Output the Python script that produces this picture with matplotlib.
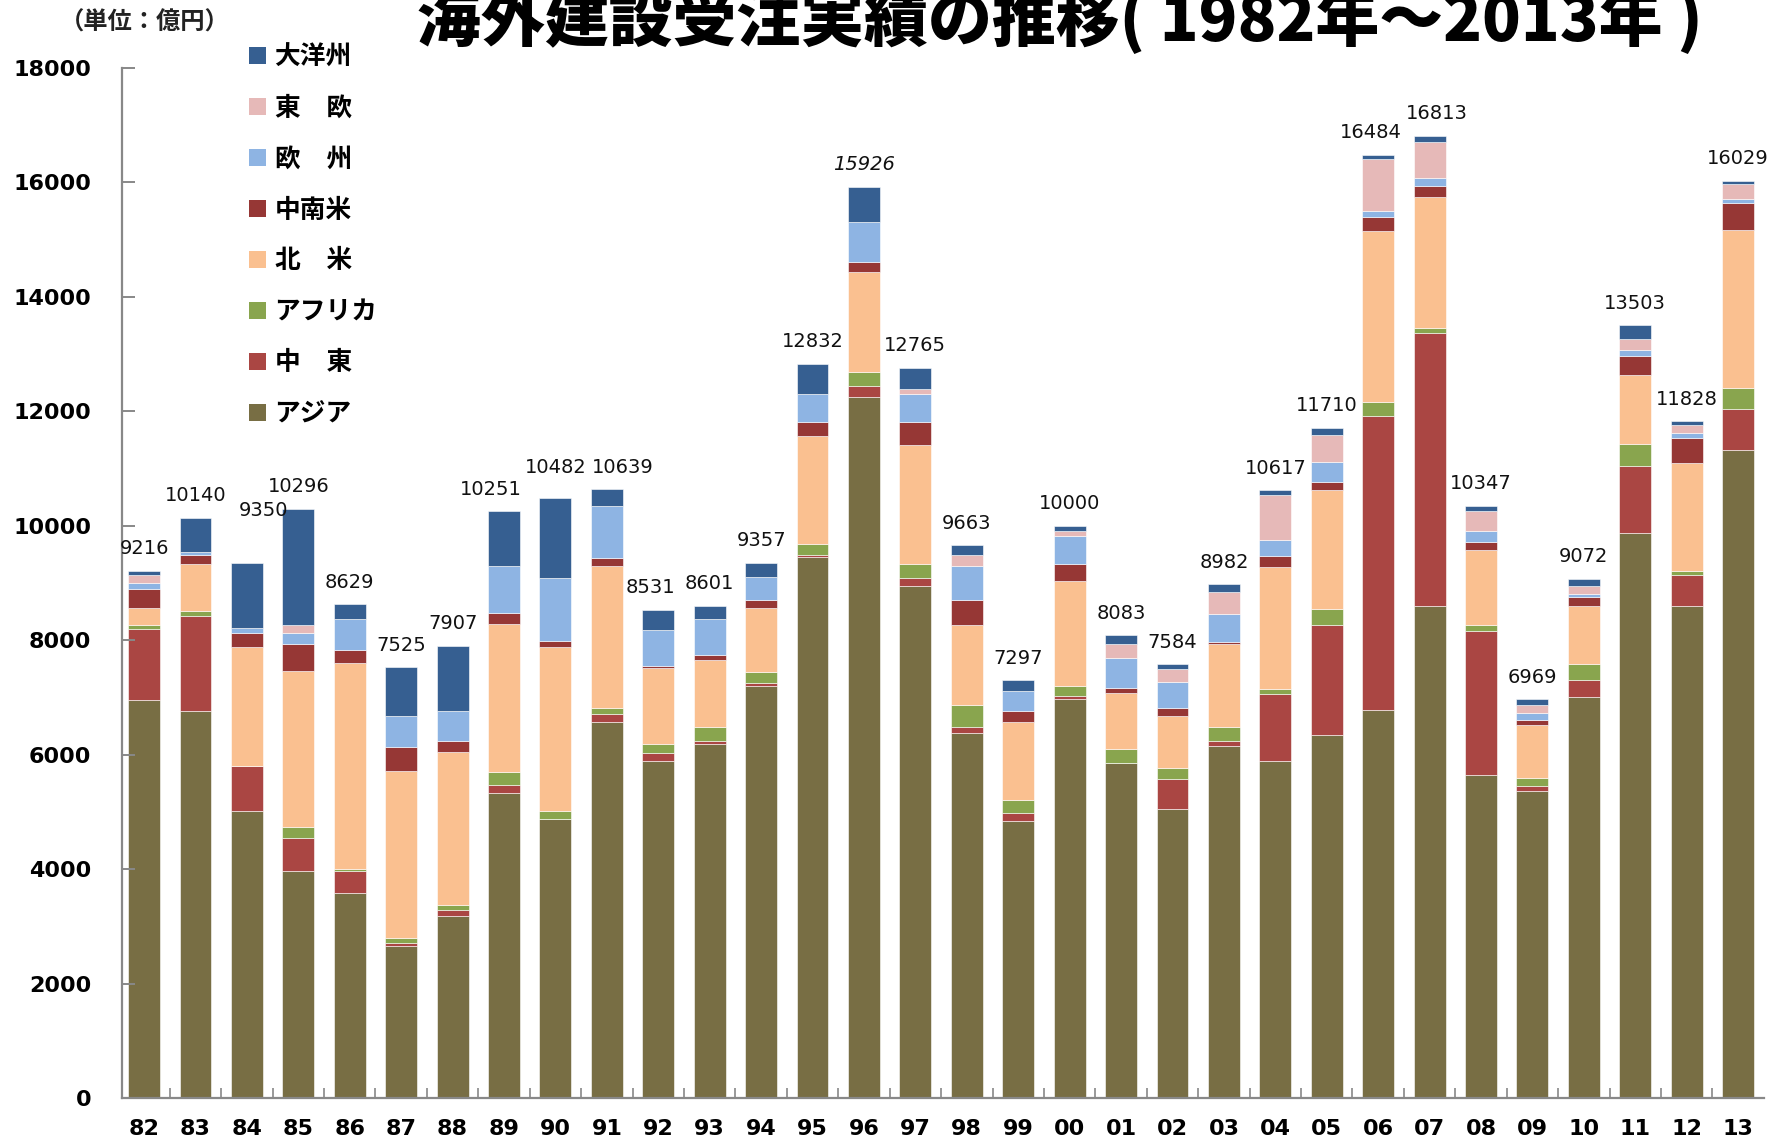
import numpy as np
import matplotlib.pyplot as plt
from matplotlib.patches import Patch

plt.rcParams['font.family'] = ['Noto Sans CJK JP', 'DejaVu Sans']

# overseas construction orders by region (100 million yen), fiscal 1982-2013
years = ['82', '83', '84', '85', '86', '87', '88', '89', '90', '91', '92', '93', '94', '95', '96', '97',
         '98', '99', '00', '01', '02', '03', '04', '05', '06', '07', '08', '09', '10', '11', '12', '13']
asia = [6958, 6760, 5020, 3960, 3575, 2665, 3185, 5325, 4880, 6577, 5893, 6188, 7208, 9456, 12251, 8950,
        6383, 4842, 6966, 5863, 5043, 6153, 5896, 6336, 6775, 8602, 5645, 5367, 7001, 9870, 8602, 11327]
middle_east = [1230, 1660, 780, 585, 390, 40, 100, 140, 0, 133, 140, 47, 46, 39, 187, 132,
               93, 133, 58, 0, 530, 92, 1169, 1931, 5139, 4771, 2524, 89, 300, 1168, 545, 722]
africa = [78, 95, 0, 195, 45, 90, 95, 235, 130, 101, 155, 241, 195, 187, 244, 257,
          389, 233, 182, 232, 191, 240, 83, 282, 245, 89, 89, 133, 289, 389, 56, 356]
north_america = [295, 825, 2090, 2715, 3585, 2920, 2665, 2580, 2880, 2482, 1323, 1175, 1120, 1890, 1749, 2081,
                 1401, 1369, 1832, 979, 920, 1442, 2131, 2081, 2999, 2279, 1312, 923, 1012, 1212, 1890, 2758]
latin_america = [327, 155, 235, 475, 240, 425, 195, 190, 100, 140, 39, 86, 140, 240, 186, 395,
                 443, 195, 291, 83, 133, 42, 190, 141, 243, 201, 144, 100, 145, 334, 445, 478]
europe = [117, 40, 85, 195, 540, 530, 525, 825, 1105, 918, 630, 638, 389, 495, 686, 488,
          584, 342, 489, 538, 447, 497, 291, 340, 93, 133, 189, 111, 67, 100, 89, 67]
east_europe = [132, 0, 0, 140, 0, 0, 0, 0, 0, 0, 0, 0, 0, 0, 0, 88,
               202, 0, 91, 241, 241, 382, 779, 481, 919, 634, 356, 145, 133, 200, 133, 267]
oceania = [79, 605, 1140, 2031, 254, 855, 1142, 956, 1387, 288, 351, 226, 259, 525, 623, 374,
           168, 183, 91, 147, 79, 134, 78, 118, 71, 104, 88, 101, 125, 230, 68, 54]

series = [
    ('アジア', asia, '#786E44'),
    ('中　東', middle_east, '#AA4643'),
    ('アフリカ', africa, '#89A54E'),
    ('北　米', north_america, '#FAC090'),
    ('中南米', latin_america, '#963735'),
    ('欧　州', europe, '#8EB4E3'),
    ('東　欧', east_europe, '#E6B9B8'),
    ('大洋州', oceania, '#365F91'),
]

# nudges for crowded total labels: (x in bar units, y in points)
label_shift = {'84': (0.32, 22), '89': (-0.25, 0), '90': (0.0, 6), '91': (0.3, 0),
               '92': (-0.15, 0), '06': (-0.15, 0), '07': (0.15, 0)}

fig = plt.figure(figsize=(17.75, 11.47), dpi=100)
ax = fig.add_axes([0.0687, 0.0427, 0.925, 0.898])

x = np.arange(len(years))
bottom = np.zeros(len(years))
for name, vals, color in series:
    vals = np.array(vals, dtype=float)
    ax.bar(x, vals, width=0.62, bottom=bottom, color=color, label=name,
           edgecolor='white', linewidth=0.4)
    bottom += vals

for i, total in enumerate(bottom):
    dx, dy = label_shift.get(years[i], (0, 0))
    style = 'italic' if years[i] == '96' else 'normal'
    ax.annotate(f'{int(total)}', (x[i] + dx, total), xytext=(0, 9 + dy),
                textcoords='offset points', ha='center', va='bottom',
                fontsize=14, family='DejaVu Sans', style=style, color='#111111')

ax.set_ylim(0, 18000)
ax.set_xlim(-0.43, 31.5)
ax.set_yticks(range(0, 18001, 2000))
ax.set_xticks(x)
ax.set_xticklabels(years)
ax.set_xticks(np.arange(0.5, 31.5, 1), minor=True)

for side in ['top', 'right']:
    ax.spines[side].set_visible(False)
for side in ['left', 'bottom']:
    ax.spines[side].set_color('#888888')
    ax.spines[side].set_linewidth(1.6)

ax.tick_params(axis='y', direction='in', length=9, width=1.4, color='#888888', pad=22)
ax.tick_params(axis='x', which='major', length=0, pad=15)
ax.tick_params(axis='x', which='minor', direction='in', length=7, width=1.2, color='#888888')
for lab in ax.get_yticklabels() + ax.get_xticklabels():
    lab.set_fontfamily('DejaVu Sans')
    lab.set_fontweight('bold')
    lab.set_fontsize(16)

handles = [Patch(facecolor=c, label=n) for n, _, c in series[::-1]]
ax.legend(handles=handles, loc='upper left', bbox_to_anchor=(236 / 1775, 1 - 31 / 1147),
          bbox_transform=fig.transFigure, frameon=False,
          labelspacing=0.93, handlelength=0.65, handleheight=0.65, handletextpad=0.35,
          borderpad=0, prop={'weight': 'bold', 'size': 18.5})

fig.text(1060 / 1775, 1 - 41 / 1147, '海外建設受注実績の推移( 1982年～2013年 )',
         ha='center', va='baseline', fontsize=46, fontweight='heavy')
fig.text(60 / 1775, 1 - 23 / 1147, '（単位：億円）', ha='left', va='center',
         fontsize=17.5, fontweight='bold', color='#222222')

fig.savefig('out.png', dpi=100)
